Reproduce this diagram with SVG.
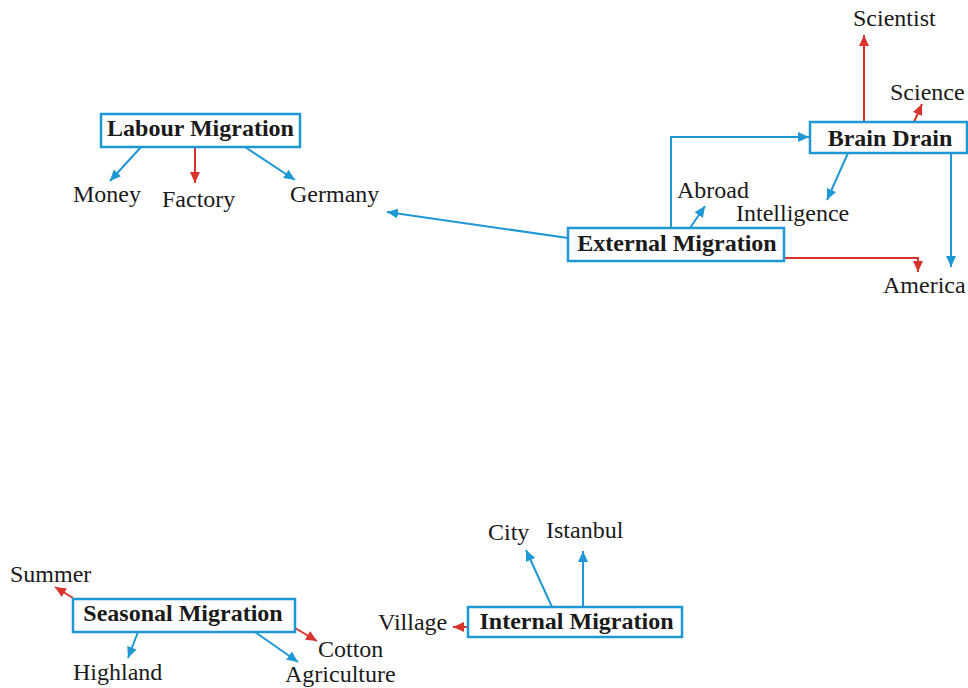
<svg xmlns="http://www.w3.org/2000/svg" width="968" height="688" viewBox="0 0 968 688">
<style>
.box{fill:#fff;stroke:#1e98d4;stroke-width:2.5}
.t{font-family:"Liberation Serif","Times New Roman",serif;font-size:24px;fill:#1a1a1a}
.b{font-weight:bold;text-anchor:middle}
.cb{fill:none;stroke:#1e98d4;stroke-width:2}
.cr{fill:none;stroke:#d8332c;stroke-width:2}
.cb{marker-end:url(#ab)}
.cr{marker-end:url(#ar)}
</style>
<defs>
<marker id="ab" markerUnits="userSpaceOnUse" markerWidth="12" markerHeight="10" refX="11" refY="5" orient="auto"><path d="M0,0 L11,5 L0,10 z" fill="#1e98d4"/></marker>
<marker id="ar" markerUnits="userSpaceOnUse" markerWidth="12" markerHeight="10" refX="11" refY="5" orient="auto"><path d="M0,0 L11,5 L0,10 z" fill="#d8332c"/></marker>
</defs>
<rect width="968" height="688" fill="#fff"/>
<g id="connectors">
<path class="cb" d="M141,147 L110,181"/>
<path class="cr" d="M195,147 L195,183"/>
<path class="cb" d="M245,147 L295,180"/>
<path class="cb" d="M568,238 L387,212"/>
<path class="cb" d="M671,228 L671,137 L809,137"/>
<path class="cb" d="M690,228 L705,206"/>
<path class="cr" d="M784,258 L918,258 L918,272"/>
<path class="cr" d="M864,122 L864,35"/>
<path class="cr" d="M914,122 L922,104"/>
<path class="cb" d="M848,153 L827,200"/>
<path class="cb" d="M951,153 L951,267"/>
<path class="cr" d="M73,598 L55,587"/>
<path class="cb" d="M138,632 L128,658"/>
<path class="cb" d="M255,632 L298,662"/>
<path class="cr" d="M295,628 L317,641"/>
<path class="cr" d="M468,627 L453,627"/>
<path class="cb" d="M552,607 L526,550"/>
<path class="cb" d="M583,607 L583,551"/>
</g>
<g id="labour-migration"><rect class="box" x="101" y="114" width="199" height="33"/><text class="t b" x="200.5" y="136">Labour Migration</text></g>
<g id="money"><text class="t" x="73" y="202">Money</text></g>
<g id="factory"><text class="t" x="162" y="207">Factory</text></g>
<g id="germany"><text class="t" x="290" y="202">Germany</text></g>
<g id="brain-drain"><rect class="box" x="810" y="122" width="157" height="31"/><text class="t b" x="890" y="146">Brain Drain</text></g>
<g id="external-migration"><rect class="box" x="568" y="228" width="216" height="33"/><text class="t b" x="677" y="251">External Migration</text></g>
<g id="scientist"><text class="t" x="853" y="26">Scientist</text></g>
<g id="science"><text class="t" x="890" y="100">Science</text></g>
<g id="abroad"><text class="t" x="677" y="198">Abroad</text></g>
<g id="intelligence"><text class="t" x="736" y="221">Intelligence</text></g>
<g id="america"><text class="t" x="883" y="293">America</text></g>
<g id="seasonal-migration"><rect class="box" x="73" y="599" width="222" height="33"/><text class="t b" x="183" y="621">Seasonal Migration</text></g>
<g id="summer"><text class="t" x="10" y="582">Summer</text></g>
<g id="highland"><text class="t" x="73" y="680">Highland</text></g>
<g id="agriculture"><text class="t" x="285" y="682">Agriculture</text></g>
<g id="cotton"><text class="t" x="318" y="657">Cotton</text></g>
<g id="internal-migration"><rect class="box" x="468" y="607" width="214" height="30"/><text class="t b" x="576.5" y="629">Internal Migration</text></g>
<g id="village"><text class="t" x="378" y="630">Village</text></g>
<g id="city"><text class="t" x="488" y="540">City</text></g>
<g id="istanbul"><text class="t" x="546" y="538">Istanbul</text></g>
</svg>
